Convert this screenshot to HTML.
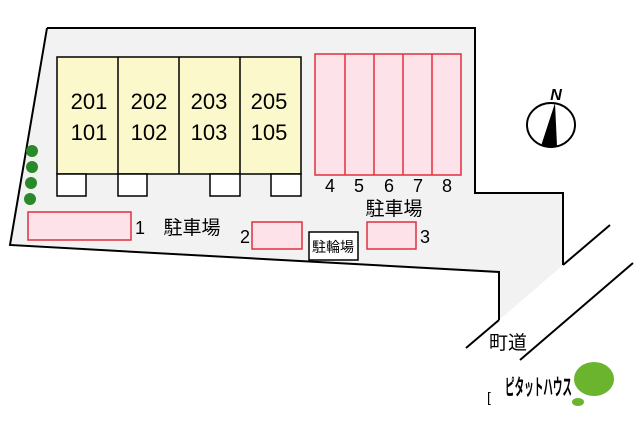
<!DOCTYPE html>
<html><head><meta charset="utf-8"><style>
body{margin:0;background:#fff;}
svg text{font-family:"Liberation Sans","Noto Sans CJK JP",sans-serif;}
</style></head><body>
<svg width="640" height="426" viewBox="0 0 640 426" xmlns="http://www.w3.org/2000/svg">
<polygon points="499,320 563,265 563,193 499,272" fill="#f2f2f2"/>
<polygon points="47,28 475,28 475,193 563,193 563,265 499,320 499,272 10,245" fill="#f2f2f2"/>
<polyline points="47,28 475,28 475,193 563,193 563,265" fill="none" stroke="#000" stroke-width="2"/>
<polyline points="47,28 10,245 499,272 499,320" fill="none" stroke="#000" stroke-width="2"/>
<line x1="466" y1="348" x2="499" y2="320" stroke="#000" stroke-width="2"/>
<line x1="563" y1="265" x2="610" y2="225" stroke="#000" stroke-width="2"/>
<line x1="520" y1="360" x2="633" y2="263" stroke="#000" stroke-width="2"/>
<rect x="57" y="57" width="244" height="117" fill="#fbf9cc" stroke="#000" stroke-width="1.5"/>
<line x1="118" y1="57" x2="118" y2="174" stroke="#000" stroke-width="1.5"/>
<line x1="179" y1="57" x2="179" y2="174" stroke="#000" stroke-width="1.5"/>
<line x1="240" y1="57" x2="240" y2="174" stroke="#000" stroke-width="1.5"/>
<g fill="#fff" stroke="#000" stroke-width="1.5">
<rect x="57" y="174" width="29" height="22"/><rect x="118" y="174" width="29" height="22"/>
<rect x="210" y="174" width="30" height="22"/><rect x="271" y="174" width="30" height="22"/>
</g>
<g font-size="22" text-anchor="middle" fill="#000">
<text x="89" y="109">201</text><text x="149" y="109">202</text><text x="209" y="109">203</text><text x="269" y="109">205</text>
<text x="89" y="140">101</text><text x="149" y="140">102</text><text x="209" y="140">103</text><text x="269" y="140">105</text>
</g>
<g fill="#fde2ea" stroke="#e03040" stroke-width="1.5">
<rect x="315" y="54" width="146" height="121"/>
<rect x="28" y="212" width="103" height="28"/>
<rect x="252" y="222" width="50" height="27"/>
<rect x="367" y="222" width="49" height="27"/>
</g>
<g stroke="#e03040" stroke-width="1.5">
<line x1="345" y1="54" x2="345" y2="175"/><line x1="374" y1="54" x2="374" y2="175"/>
<line x1="403" y1="54" x2="403" y2="175"/><line x1="432" y1="54" x2="432" y2="175"/>
</g>
<g font-size="18" text-anchor="middle" fill="#000">
<text x="330" y="192">4</text><text x="359" y="192">5</text><text x="389" y="192">6</text><text x="418" y="192">7</text><text x="447" y="192">8</text>
<text x="140" y="234">1</text><text x="245" y="243">2</text><text x="425" y="243">3</text>
<text x="394" y="215" font-size="19">駐車場</text>
<text x="192" y="234" font-size="19">駐車場</text>
<text x="508" y="349" font-size="19">町道</text>
</g>
<rect x="309" y="232" width="49" height="28" fill="#fff" stroke="#000" stroke-width="1.5"/>
<text x="333" y="252" font-size="14" text-anchor="middle">駐輪場</text>
<g fill="#2a8a2a"><circle cx="32" cy="151" r="6"/><circle cx="32" cy="167" r="6"/><circle cx="31" cy="183" r="6"/><circle cx="30" cy="199" r="6"/></g>
<ellipse cx="551" cy="125" rx="24" ry="22" fill="#fff" stroke="#000" stroke-width="2"/>
<polygon points="555,103 541,146 557,146" fill="#000"/>
<text x="556" y="100" font-size="16" font-style="italic" text-anchor="middle" font-weight="bold">N</text>
<text x="505" y="395" font-size="22" font-weight="bold" textLength="67" lengthAdjust="spacingAndGlyphs" fill="#000">ピタットハウス</text>
<text x="487" y="402" font-size="14">[</text>
<ellipse cx="594" cy="379" rx="20" ry="17" fill="#6ab42e"/>
<ellipse cx="578" cy="402" rx="6" ry="4" fill="#6ab42e"/>
</svg>
</body></html>
